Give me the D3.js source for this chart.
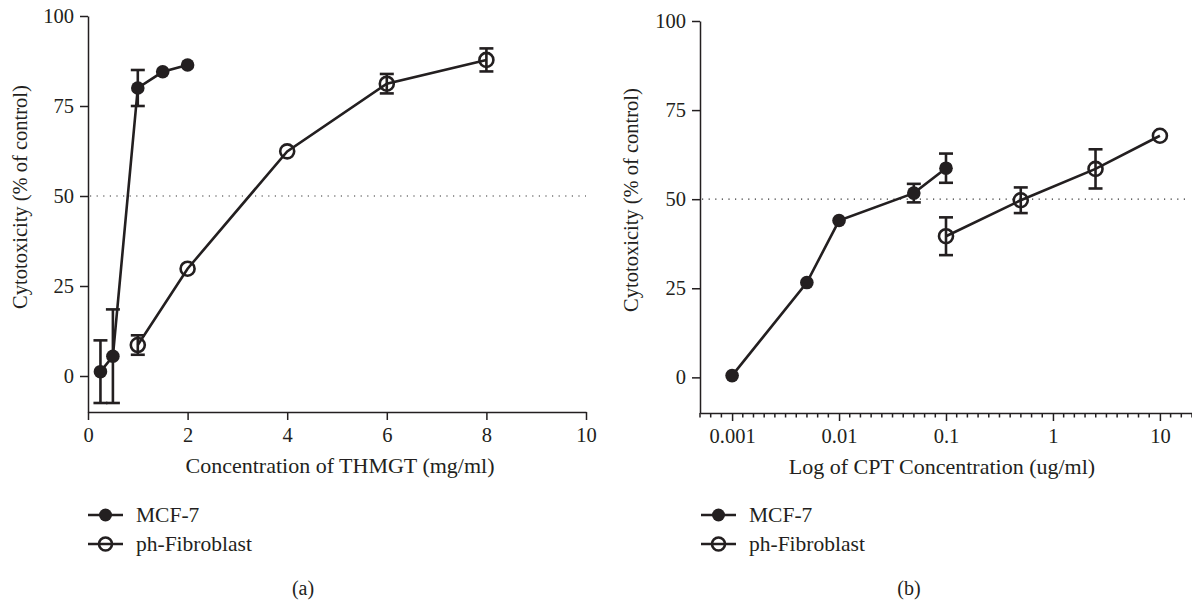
<!DOCTYPE html>
<html>
<head>
<meta charset="utf-8">
<script src="https://cdn.jsdelivr.net/npm/d3@7"></script>
<style>
  body { margin: 0; background: #fff; }
  svg text { font-family: "Liberation Serif", "DejaVu Serif", serif; fill: #231f20; }
</style>
</head>
<body>
<div id="chart"></div>
<script>
// ---- panel (a): THMGT ----
var aMcfConc = [0.25, 0.5, 1, 1.5, 2];
var aMcfVal  = [1.2, 5.5, 80, 84.5, 86.4];
var aMcfErr  = [8.7, 13, 5, 0, 0];
var aFibConc = [1, 2, 4, 6, 8];
var aFibVal  = [8.6, 29.8, 62.4, 81.2, 87.8];
var aFibErr  = [2.7, 0, 0, 2.7, 3.2];
var aXTicks  = [0, 2, 4, 6, 8, 10];

// ---- panel (b): CPT ----
var bMcfConc = [0.001, 0.005, 0.01, 0.05, 0.1];
var bMcfVal  = [0.5, 26.6, 44, 51.7, 58.7];
var bMcfErr  = [0, 0, 0, 2.6, 4.1];
var bFibConc = [0.1, 0.5, 2.5, 10];
var bFibVal  = [39.6, 49.7, 58.5, 67.8];
var bFibErr  = [5.3, 3.6, 5.5, 0];
var bXTicks  = [0.001, 0.01, 0.1, 1, 10];

var yTicks = [0, 25, 50, 75, 100];
var seriesNames = ["MCF-7", "ph-Fibroblast"];

var ink = "#231f20";

var svg = d3.select("#chart").append("svg")
    .attr("width", 1192)
    .attr("height", 601);

function zip(xs, ys, es) {
  return xs.map(function(x, i) { return {x: x, y: ys[i], e: es[i]}; });
}

function drawPanel(p) {
  var g = svg.append("g");

  var yScale = d3.scaleLinear().domain([-10, 100]).range([p.bottom, p.top]);
  var xScale = p.xScale;

  // axes
  var yAxis = d3.axisLeft(yScale).tickValues(yTicks).tickSize(8).tickSizeOuter(0).tickPadding(6);
  var gy = g.append("g").attr("transform", "translate(" + p.left + ",0)").call(yAxis);

  var xAxis = d3.axisBottom(xScale).tickValues(p.xTicks).tickSize(8).tickSizeOuter(0).tickPadding(7)
      .tickFormat(p.fmt);
  var gx = g.append("g").attr("transform", "translate(0," + p.bottom + ")").call(xAxis);

  [gy, gx].forEach(function(a) {
    a.select(".domain").attr("stroke", ink).attr("stroke-width", 1.5);
    a.selectAll(".tick line").attr("stroke", ink).attr("stroke-width", 1.5);
    a.selectAll(".tick text").attr("font-size", 20.5).style("font-family", "Liberation Serif").attr("fill", ink);
  });

  // minor ticks on log axis
  if (p.minor) {
    g.selectAll(".minor").data(p.minor).enter().append("line")
        .attr("x1", function(d) { return xScale(d); })
        .attr("x2", function(d) { return xScale(d); })
        .attr("y1", p.bottom)
        .attr("y2", p.bottom + 4.5)
        .attr("stroke", ink).attr("stroke-width", 1.5);
  }

  // 50% reference line
  g.append("line")
      .attr("x1", p.left + 2).attr("x2", p.refEnd)
      .attr("y1", yScale(50)).attr("y2", yScale(50))
      .attr("stroke", "#333").attr("stroke-width", 1.2)
      .attr("stroke-dasharray", "1.2,5.4");

  var line = d3.line().x(function(d) { return xScale(d.x); }).y(function(d) { return yScale(d.y); });

  p.series.forEach(function(s) {
    g.append("path").datum(s.data)
        .attr("d", line)
        .attr("fill", "none").attr("stroke", ink).attr("stroke-width", 2.6);

    var eb = s.data.filter(function(d) { return d.e > 0; });
    var bars = g.selectAll(null).data(eb).enter().append("g")
        .attr("stroke", ink).attr("stroke-width", 2.6);
    bars.append("line")
        .attr("x1", function(d) { return xScale(d.x); }).attr("x2", function(d) { return xScale(d.x); })
        .attr("y1", function(d) { return yScale(d.y + d.e); }).attr("y2", function(d) { return yScale(d.y - d.e); });
    bars.append("line")
        .attr("x1", function(d) { return xScale(d.x) - 7; }).attr("x2", function(d) { return xScale(d.x) + 7; })
        .attr("y1", function(d) { return yScale(d.y + d.e); }).attr("y2", function(d) { return yScale(d.y + d.e); });
    bars.append("line")
        .attr("x1", function(d) { return xScale(d.x) - 7; }).attr("x2", function(d) { return xScale(d.x) + 7; })
        .attr("y1", function(d) { return yScale(d.y - d.e); }).attr("y2", function(d) { return yScale(d.y - d.e); });

    g.selectAll(null).data(s.data).enter().append("circle")
        .attr("cx", function(d) { return xScale(d.x); })
        .attr("cy", function(d) { return yScale(d.y); })
        .attr("r", s.filled ? 6.8 : 7)
        .attr("fill", s.filled ? ink : "none")
        .attr("stroke", ink).attr("stroke-width", s.filled ? 0 : 2.6);
  });

  // axis titles
  g.append("text")
      .attr("transform", "translate(" + p.yTitleX + "," + p.yTitleY + ") rotate(-90)")
      .attr("text-anchor", "middle").attr("font-size", 20.5)
      .text("Cytotoxicity (% of control)");
  g.append("text")
      .attr("x", p.xTitleX).attr("y", p.bottom + 61)
      .attr("text-anchor", "middle").attr("font-size", 22)
      .text(p.xTitle);

  // legend
  var lg = g.append("g").attr("transform", "translate(" + p.legX + ",0)");
  p.series.forEach(function(s, i) {
    var yy = 515 + i * 29;
    lg.append("line").attr("x1", 0).attr("x2", 35).attr("y1", yy).attr("y2", yy)
        .attr("stroke", ink).attr("stroke-width", 2.6);
    lg.append("circle").attr("cx", 17.5).attr("cy", yy).attr("r", 6.5)
        .attr("fill", s.filled ? ink : "none").attr("stroke", ink).attr("stroke-width", s.filled ? 0 : 2.6);
    lg.append("text").attr("x", 48).attr("y", yy + 7).attr("font-size", 21.5).text(seriesNames[i]);
  });

  g.append("text")
      .attr("x", p.capX).attr("y", 595)
      .attr("text-anchor", "middle").attr("font-size", 20)
      .text(p.cap);
}

// panel a
var axScale = d3.scaleLinear().domain([0, 10]).range([88, 586]);
drawPanel({
  left: 88, top: 16, bottom: 412,
  xScale: axScale, xTicks: aXTicks, fmt: d3.format("d"),
  refEnd: 586,
  series: [
    {filled: true, data: zip(aMcfConc, aMcfVal, aMcfErr)},
    {filled: false, data: zip(aFibConc, aFibVal, aFibErr)}
  ],
  yTitleX: 27, yTitleY: 197,
  xTitle: "Concentration of THMGT (mg/ml)", xTitleX: 340,
  legX: 88, capX: 303, cap: "(a)"
});

// panel b
var bxScale = d3.scaleLog().domain([Math.pow(10, -3.3), Math.pow(10, 1.3)]).range([700, 1192]);
var bMinor = d3.range(-33, 14).filter(function(k) { return k % 10 !== 0; })
    .map(function(k) { return Math.pow(10, k / 10); });
drawPanel({
  left: 700, top: 21, bottom: 413,
  xScale: bxScale, xTicks: bXTicks, fmt: function(d) { return String(d); },
  minor: bMinor,
  refEnd: 1190,
  series: [
    {filled: true, data: zip(bMcfConc, bMcfVal, bMcfErr)},
    {filled: false, data: zip(bFibConc, bFibVal, bFibErr)}
  ],
  yTitleX: 638, yTitleY: 200,
  xTitle: "Log of CPT Concentration (ug/ml)", xTitleX: 942,
  legX: 701, capX: 909, cap: "(b)"
});
</script>
</body>
</html>
